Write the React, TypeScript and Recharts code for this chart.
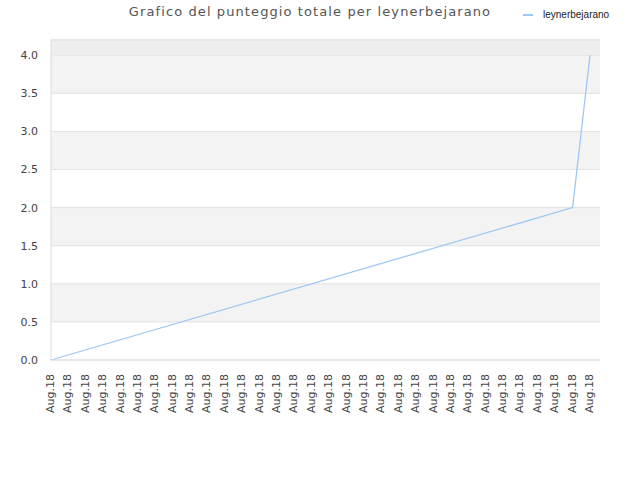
import {
  LineChart,
  Line,
  XAxis,
  YAxis,
  CartesianGrid,
  ReferenceArea,
  ReferenceLine,
} from "recharts";

const title = "Grafico del punteggio totale per leynerbejarano";
const seriesName = "leynerbejarano";

// one label per entry, all the same month
const dates = [
  "Aug.18", "Aug.18", "Aug.18", "Aug.18", "Aug.18", "Aug.18", "Aug.18", "Aug.18",
  "Aug.18", "Aug.18", "Aug.18", "Aug.18", "Aug.18", "Aug.18", "Aug.18", "Aug.18",
  "Aug.18", "Aug.18", "Aug.18", "Aug.18", "Aug.18", "Aug.18", "Aug.18", "Aug.18",
  "Aug.18", "Aug.18", "Aug.18", "Aug.18", "Aug.18", "Aug.18", "Aug.18", "Aug.18",
];

// only the known scores; the gaps are bridged by connectNulls
const scores: (number | null)[] = [
  0, null, null, null, null, null, null, null,
  null, null, null, null, null, null, null, null,
  null, null, null, null, null, null, null, null,
  null, null, null, null, null, null, 2, 4,
];

const yTicks = [0, 0.5, 1, 1.5, 2, 2.5, 3, 3.5, 4];

const data = dates.map((d, i) => ({ date: d, score: scores[i] }));

const DateTick = (props: any) => {
  const { x, y, payload } = props;
  return (
    <g transform={`translate(${x},${y})`}>
      <text
        transform="rotate(-90)"
        x={-6}
        dy={3}
        textAnchor="end"
        fontSize={11}
        fill="#444"
        fontFamily="DejaVu Sans"
      >
        {payload.value}
      </text>
    </g>
  );
};

const App = () => {
  return (
    <div style={{ position: "absolute", left: 0, top: 0, width: 640, height: 480, background: "#fff" }}>
      <div
        style={{
          position: "absolute",
          top: 4,
          left: 0,
          width: 620,
          textAlign: "center",
          fontFamily: "DejaVu Sans",
          fontSize: 13,
          letterSpacing: 1.1,
          color: "#555",
        }}
      >
        {title}
      </div>
      <div
        style={{
          position: "absolute",
          top: 9,
          left: 523,
          display: "flex",
          alignItems: "center",
          fontFamily: "Liberation Sans",
          fontSize: 10,
          color: "#222",
        }}
      >
        <span style={{ display: "inline-block", width: 10, height: 2, background: "#9dc8f5", marginRight: 10 }} />
        {seriesName}
      </div>
      <LineChart
        width={640}
        height={480}
        data={data}
        margin={{ top: 40, right: 40, left: 0, bottom: 60 }}
      >
        <CartesianGrid
          vertical={false}
          stroke="#e2e2e2"
          horizontalFill={["#ffffff", "#f3f3f3"]}
          fillOpacity={1}
        />
        {/* unpadded hidden axis so the top band and frame span the full plot */}
        <XAxis xAxisId="frame" dataKey="date" hide />
        <ReferenceArea xAxisId="frame" y1={4} y2={4.2} fill="#eeeeee" fillOpacity={1} stroke="none" />
        <ReferenceLine xAxisId="frame" y={4.2} stroke="#dddddd" />
        <XAxis
          dataKey="date"
          interval={0}
          height={60}
          padding={{ left: 0, right: 10 }}
          axisLine={{ stroke: "#dddddd" }}
          tickLine={false}
          tick={<DateTick />}
        />
        <YAxis
          width={51}
          domain={[0, 4.2]}
          ticks={yTicks}
          tickFormatter={(v: number) => v.toFixed(1)}
          axisLine={{ stroke: "#dddddd" }}
          tickLine={false}
          tickSize={0}
          tickMargin={13}
          tick={{ fontSize: 11, fill: "#444", fontFamily: "DejaVu Sans" }}
        />
        <YAxis
          yAxisId="frame"
          orientation="right"
          width={0}
          domain={[0, 4.2]}
          tick={false}
          tickLine={false}
          axisLine={{ stroke: "#dddddd" }}
        />
        <Line
          type="linear"
          dataKey="score"
          stroke="#9dc8f5"
          strokeWidth={1.3}
          dot={false}
          connectNulls
          isAnimationActive={false}
        />
      </LineChart>
    </div>
  );
};

export default App;
